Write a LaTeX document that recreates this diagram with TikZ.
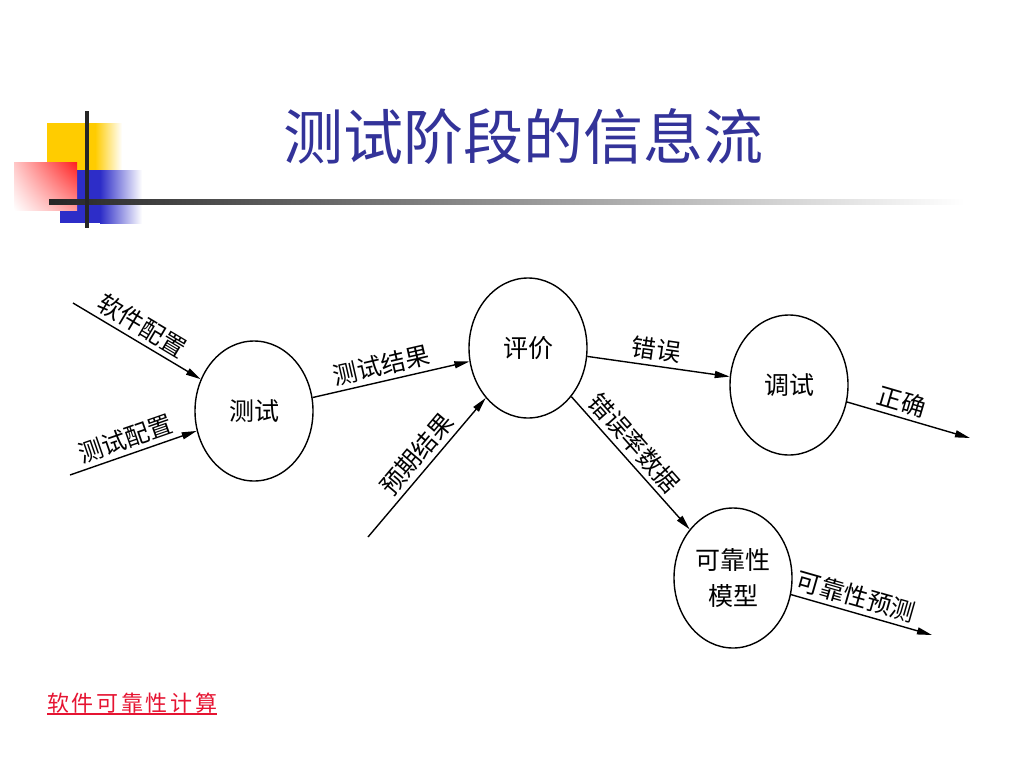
\documentclass[tikz,border=0pt]{standalone}
\usepackage{fontspec}
\setmainfont{Noto Sans CJK SC}
\newfontfamily\linkfont[LetterSpace=12]{Noto Sans CJK SC}
\usetikzlibrary{arrows.meta,shapes.geometric,shadings}
\definecolor{titleblue}{RGB}{51,51,153}
\definecolor{logoyellow}{RGB}{255,204,0}
\definecolor{logoblue}{RGB}{45,45,200}
\definecolor{logored}{RGB}{255,30,30}
\definecolor{linkred}{RGB}{230,20,50}

\begin{document}
\begin{tikzpicture}[x=1pt,y=-1pt,
    proc/.style={draw, ellipse, line width=1.4pt, minimum width=118pt,
      minimum height=140pt, inner sep=0pt, align=center,
      font=\fontsize{25}{36}\selectfont},
    flow/.style={line width=1.4pt, -{Triangle[length=15pt,width=7pt]}},
    lab/.style={font=\fontsize{24.5}{28}\selectfont, sloped, above=1pt}]
  \fill[white] (0,0) rectangle (1024,768);

  \fill[logoyellow] (47,123) rectangle (95,172);
  \shade[left color=logoyellow, right color=white] (95,123) rectangle (122,172);
  \fill[logoblue] (60,170) rectangle (100,223);
  \shade[left color=logoblue, right color=white] (100,170) rectangle (142,223);
  \shade[upper left=logored!25, upper right=logored, lower left=white,
    lower right=logored!45] (14,162) rectangle (77,210);
  \shade[left color=black!85, right color=white] (49,199) rectangle (965,204);
  \fill[black!85] (85,111) rectangle (89,228);

  \node[text=titleblue, font=\fontsize{60}{70}\selectfont] (title) at (523,137) {测试阶段的信息流};

  \node[proc] (test) at (254,411) {测试};
  \node[proc] (eval) at (528,348) {评价};
  \node[proc] (debug) at (789,385) {调试};
  \node[proc] (model) at (733,578) {可靠性\\模型};

  \coordinate (swcfg) at (73,303);
  \coordinate (tcfg) at (70,475);
  \coordinate (expect) at (368,537);
  \coordinate (correct) at (970,438);
  \coordinate (predict) at (932,635);

  \draw[flow] (swcfg) -- node[lab, pos=0.48] {软件配置} (test);
  \draw[flow] (tcfg) -- node[lab, pos=0.48] {测试配置} (test);
  \draw[flow] (test) -- node[lab, pos=0.46] {测试结果} (eval);
  \draw[flow] (expect) -- node[lab, pos=0.52] {预期结果} (eval);
  \draw[flow] (eval) -- node[lab, pos=0.47] {错误} (debug);
  \draw[flow] (eval) -- node[lab, pos=0.43] {错误率数据} (model);
  \draw[flow] (debug) -- node[lab, pos=0.41] {正确} (correct);
  \draw[flow] (model) -- node[lab, pos=0.43] {可靠性预测} (predict);

  \node[anchor=base west, inner sep=0pt, text=linkred,
    font=\linkfont\fontsize{22}{26}\selectfont] (link) at (47,711) {软件可靠性计算};
  \draw[linkred, line width=1.5pt] ([yshift=-3pt]link.base west) -- ([yshift=-3pt]link.base east);
\end{tikzpicture}
\end{document}
